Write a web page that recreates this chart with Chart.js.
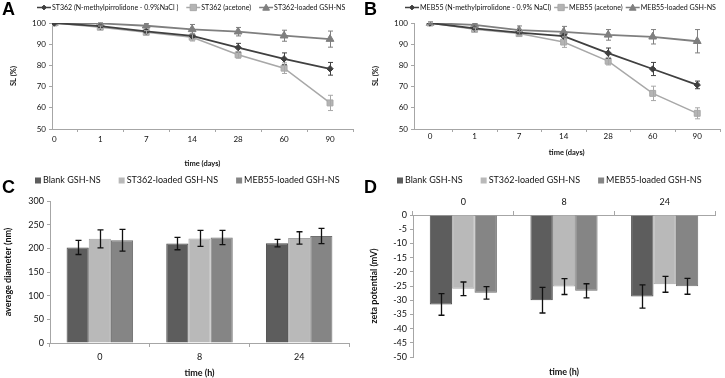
<!DOCTYPE html>
<html>
<head>
<meta charset="utf-8">
<script src="https://cdn.jsdelivr.net/npm/chart.js@4.4.0/dist/chart.umd.min.js"></script>
<style>
  body { margin: 0; background: #fff; }
  #wrap { position: relative; width: 725px; height: 378px; overflow: hidden; }
  canvas { position: absolute; }
  .letter { position: absolute; font: bold 18px Arial, "Liberation Sans", sans-serif; line-height: 18px; color: #000; }
</style>
</head>
<body>
<div id="wrap">
  <canvas id="chartA" width="362" height="180" style="left:0;top:0"></canvas>
  <canvas id="chartB" width="363" height="180" style="left:362px;top:0"></canvas>
  <canvas id="chartC" width="362" height="206" style="left:0;top:172px"></canvas>
  <canvas id="chartD" width="363" height="206" style="left:362px;top:172px"></canvas>
  <div class="letter" style="left:2px;top:0">A</div>
  <div class="letter" style="left:364px;top:0">B</div>
  <div class="letter" style="left:2px;top:178px">C</div>
  <div class="letter" style="left:364px;top:178px">D</div>
</div>
<script>
// Time points (days) for the stability panels A and B
const timeDays = ['0', '1', '7', '14', '28', '60', '90'];

// Panel A - ST362
const aNmp = [100, 98.5, 96, 93.9, 88.4, 83.1, 78.4];
const aNmpErr = [0, 0.4, 0.6, 0.8, 2, 2.8, 3];
const aAcetone = [100, 98, 95.6, 93.3, 85, 78.7, 62.3];
const aAcetoneErr = [0, 0.6, 0.8, 1.8, 1.6, 2.5, 3.6];
const aGsh = [100, 99.8, 98.7, 97, 95.9, 94, 92.4];
const aGshErr = [0, 0.3, 1, 2.3, 2, 2.6, 3.8];

// Panel B - MEB55
const bNmp = [100, 97.5, 95.5, 93.8, 85.8, 78.3, 70.8];
const bNmpErr = [0, 0.4, 0.6, 0.8, 2.4, 3.1, 1.8];
const bAcetone = [100, 97, 95, 91, 82, 66.8, 57.4];
const bAcetoneErr = [0.5, 0.7, 0.9, 2.5, 1.8, 3.4, 2.6];
const bGsh = [100, 99.1, 96.6, 95.8, 94.4, 93.5, 91.4];
const bGshErr = [0.5, 0.5, 2, 2.6, 2.5, 3.4, 5.5];

// Panels C and D - nanosponge size and zeta potential
const timeHours = ['0', '8', '24'];
const diamBlank = [202, 210, 211];
const diamBlankErr = [15, 13, 8];
const diamSt362 = [220, 221, 222];
const diamSt362Err = [19, 17, 13];
const diamMeb55 = [217, 223, 226];
const diamMeb55Err = [23, 15, 16];

const zetaBlank = [-31.5, -30, -28.7];
const zetaBlankErr = [3.8, 4.5, 4.1];
const zetaSt362 = [-26, -25.2, -24.4];
const zetaSt362Err = [2.4, 2.8, 2.8];
const zetaMeb55 = [-27.4, -26.7, -25.1];
const zetaMeb55Err = [2.2, 2.5, 2.8];

Chart.defaults.font.family = 'Lato, "Open Sans", sans-serif';
Chart.defaults.font.size = 8;
Chart.defaults.color = '#111';
Chart.defaults.animation = false;

const axisGrey = '#a6a6a6';

// draws one marker shape
function drawMarker(ctx, style, x, y, r, fill, stroke) {
  ctx.beginPath();
  if (style === 'rectRot') {
    ctx.moveTo(x, y - r); ctx.lineTo(x + r, y); ctx.lineTo(x, y + r); ctx.lineTo(x - r, y);
  } else if (style === 'triangle') {
    ctx.moveTo(x, y - r); ctx.lineTo(x + r, y + r * 0.8); ctx.lineTo(x - r, y + r * 0.8);
  } else {
    ctx.rect(x - r, y - r, r * 2, r * 2);
  }
  ctx.closePath();
  ctx.fillStyle = fill;
  ctx.fill();
  ctx.strokeStyle = stroke;
  ctx.lineWidth = 1;
  ctx.stroke();
}

// Legend in the Excel style: line + marker or small square, then text, one after another
const panelLegend = {
  id: 'panelLegend',
  afterDraw(chart, args, opts) {
    const ctx = chart.ctx;
    ctx.save();
    ctx.font = opts.font;
    ctx.textBaseline = 'middle';
    let x = opts.x;
    const y = opts.y;
    chart.data.datasets.forEach(ds => {
      if (chart.config.type === 'line') {
        ctx.strokeStyle = ds.borderColor;
        ctx.lineWidth = 1.5;
        ctx.beginPath();
        ctx.moveTo(x, y);
        ctx.lineTo(x + opts.lineLen, y);
        ctx.stroke();
        drawMarker(ctx, ds.pointStyle, x + opts.lineLen / 2, y, ds.pointRadius * 0.75, ds.pointBackgroundColor, ds.pointBorderColor);
        x += opts.lineLen + 1;
      } else {
        ctx.fillStyle = ds.backgroundColor;
        ctx.fillRect(x, y - 3, 6, 6);
        x += 8;
      }
      ctx.fillStyle = '#111';
      ctx.fillText(ds.label, x, y);
      x += ctx.measureText(ds.label).width + opts.gap;
    });
    ctx.restore();
  }
};

// Error bars read from dataset.errors, placed with the y scale
const errorBars = {
  id: 'errorBars',
  afterDatasetsDraw(chart, args, opts) {
    const ctx = chart.ctx;
    const yScale = chart.scales.y;
    chart.data.datasets.forEach((ds, di) => {
      if (!ds.errors) return;
      const meta = chart.getDatasetMeta(di);
      ctx.save();
      ctx.strokeStyle = opts.color || ds.borderColor;
      ctx.lineWidth = opts.width;
      meta.data.forEach((el, i) => {
        const err = ds.errors[i];
        if (!err) return;
        const d = ds.data[i];
        const v = typeof d === 'object' ? d.y : d;
        const top = yScale.getPixelForValue(v + err);
        const bot = yScale.getPixelForValue(v - err);
        const x = Math.round(el.x) + 0.5;
        ctx.beginPath();
        ctx.moveTo(x, top); ctx.lineTo(x, bot);
        ctx.moveTo(x - opts.cap, top); ctx.lineTo(x + opts.cap, top);
        ctx.moveTo(x - opts.cap, bot); ctx.lineTo(x + opts.cap, bot);
        ctx.stroke();
      });
      ctx.restore();
    });
  }
};

// Small tick marks between the time points on the x axis
const betweenTicks = {
  id: 'betweenTicks',
  afterDraw(chart) {
    const s = chart.scales.x;
    const ctx = chart.ctx;
    ctx.save();
    ctx.strokeStyle = axisGrey;
    ctx.lineWidth = 1;
    for (let v = Math.ceil(s.min - 0.5) + 0.5; v <= s.max + 0.001; v += 1) {
      const px = Math.round(s.getPixelForValue(v)) + 0.5;
      ctx.beginPath();
      ctx.moveTo(px, s.top);
      ctx.lineTo(px, s.top + 3);
      ctx.stroke();
    }
    ctx.restore();
  }
};

// Builds a stability line chart (panels A and B)
function lineChart(id, series, o) {
  const datasets = series.map(s => ({
    label: s.label,
    data: s.values.map((v, i) => ({ x: i, y: v })),
    errors: s.errors,
    borderColor: s.line,
    borderWidth: s.width,
    backgroundColor: s.fill,
    pointBackgroundColor: s.fill,
    pointBorderColor: s.line,
    pointBorderWidth: 1,
    pointStyle: s.marker,
    pointRadius: s.radius,
    tension: 0
  }));
  return new Chart(document.getElementById(id), {
    type: 'line',
    data: { datasets: datasets },
    plugins: [panelLegend, errorBars, betweenTicks],
    options: {
      responsive: false,
      devicePixelRatio: 1,
      layout: { padding: { top: o.top, right: o.right, left: 0, bottom: 0 } },
      plugins: {
        legend: { display: false },
        tooltip: { enabled: false },
        panelLegend: { x: o.legendX, y: 7.5, lineLen: 14, gap: o.legendGap, font: o.legendFont },
        errorBars: { width: 1, cap: 2.5 }
      },
      scales: {
        x: {
          type: 'linear',
          min: o.xMin,
          max: 6.5,
          afterBuildTicks: s => { s.ticks = timeDays.map((_, i) => ({ value: i })); },
          afterFit: s => { s.height = 180 - o.bottom; },
          ticks: { callback: v => timeDays[v], autoSkip: false, maxRotation: 0, padding: o.xTickPad },
          grid: { display: false, drawTicks: false },
          border: { display: true, color: axisGrey },
          title: { display: true, text: 'time (days)', font: { weight: 'bold', size: 7.5 }, padding: { top: 0, bottom: o.xTitlePad } }
        },
        y: {
          min: 50,
          max: 100,
          afterFit: s => { s.width = o.left; },
          ticks: { stepSize: 5, padding: 3 },
          grid: { drawOnChartArea: false, drawTicks: true, tickLength: 3, color: axisGrey },
          border: { color: axisGrey },
          title: { display: true, text: 'SL (%)', font: { weight: 'bold', size: 7.5 }, padding: { top: 9, bottom: 0 } }
        }
      }
    }
  });
}

// Builds a grouped bar chart (panels C and D)
function barChart(id, series, o) {
  const datasets = series.map(s => ({
    label: s.label,
    data: s.values,
    errors: s.errors,
    backgroundColor: s.fill,
    borderColor: s.line,
    borderWidth: 1,
    categoryPercentage: 0.667,
    barPercentage: 1
  }));
  const scales = {
    x: {
      position: o.xPos,
      afterFit: s => { s.height = o.xHeight; },
      ticks: { padding: o.xTickPad, font: { size: 9 } },
      grid: { drawOnChartArea: false, drawTicks: true, tickLength: 4, color: axisGrey },
      border: { color: axisGrey },
      title: { display: o.xPos === 'bottom', text: 'time (h)', font: { weight: 'bold', size: 9 }, padding: { top: 0, bottom: 0 } }
    },
    y: {
      min: o.yMin,
      max: o.yMax,
      afterFit: s => { s.width = o.left; },
      ticks: { stepSize: o.step, padding: 3, font: { size: 9 } },
      grid: { drawOnChartArea: false, drawTicks: true, tickLength: 3, color: axisGrey },
      border: { color: axisGrey },
      title: { display: true, text: o.yTitle, font: { weight: 'bold', size: 9 }, padding: { top: o.yTitlePad, bottom: 0 } }
    }
  };
  if (o.xPos === 'top') {
    // separate bottom axis only for the "time (h)" title
    scales.x2 = {
      type: 'category',
      position: 'bottom',
      afterFit: s => { s.height = o.x2Height; },
      ticks: { display: false },
      grid: { display: false, drawTicks: false },
      border: { display: false },
      title: { display: true, text: 'time (h)', font: { weight: 'bold', size: 9 }, padding: { top: 0, bottom: 1 } }
    };
  }
  return new Chart(document.getElementById(id), {
    type: 'bar',
    data: { labels: timeHours, datasets: datasets },
    plugins: [panelLegend, errorBars],
    options: {
      responsive: false,
      devicePixelRatio: 1,
      layout: { padding: { top: o.top, right: o.right, left: 0, bottom: 0 } },
      plugins: {
        legend: { display: false },
        tooltip: { enabled: false },
        panelLegend: { x: o.legendX, y: 8.5, gap: 18, font: '9px Lato, sans-serif' },
        errorBars: { color: '#111', width: 1.3, cap: 3 }
      },
      scales: scales
    }
  });
}

const lineStyles = [
  { marker: 'rectRot', radius: 3.2, line: '#404040', fill: '#404040', width: 1.8 },
  { marker: 'rect', radius: 4.2, line: '#a8a8a8', fill: '#b4b4b4', width: 1.5 },
  { marker: 'triangle', radius: 4.5, line: '#7f7f7f', fill: '#7f7f7f', width: 1.8 }
];
const barStyles = [
  { fill: '#5d5d5d', line: '#4a4a4a' },
  { fill: '#b9b9b9', line: '#a5a5a5' },
  { fill: '#858585', line: '#6f6f6f' }
];

lineChart('chartA', [
  { label: 'ST362 (N-methylpirrolidone - 0.9%NaCl )', values: aNmp, errors: aNmpErr, ...lineStyles[0] },
  { label: 'ST362 (acetone)', values: aAcetone, errors: aAcetoneErr, ...lineStyles[1] },
  { label: 'ST362-loaded GSH-NS', values: aGsh, errors: aGshErr, ...lineStyles[2] }
], { top: 23, bottom: 129, left: 52, right: 9, xMin: -0.05, xTickPad: 6, xTitlePad: 12,
     legendX: 37, legendGap: 8, legendFont: '7px Lato, sans-serif' });

lineChart('chartB', [
  { label: 'MEB55 (N-methylpirrolidone - 0.9% NaCl)', values: bNmp, errors: bNmpErr, ...lineStyles[0] },
  { label: 'MEB55 (acetone)', values: bAcetone, errors: bAcetoneErr, ...lineStyles[1] },
  { label: 'MEB55-loaded GSH-NS', values: bGsh, errors: bGshErr, ...lineStyles[2] }
], { top: 23, bottom: 129, left: 52, right: 3, xMin: -0.36, xTickPad: 3, xTitlePad: 23,
     legendX: 43, legendGap: 3, legendFont: '7.1px Lato, sans-serif' });

barChart('chartC', [
  { label: 'Blank GSH-NS', values: diamBlank, errors: diamBlankErr, ...barStyles[0] },
  { label: 'ST362-loaded GSH-NS', values: diamSt362, errors: diamSt362Err, ...barStyles[1] },
  { label: 'MEB55-loaded GSH-NS', values: diamMeb55, errors: diamMeb55Err, ...barStyles[2] }
], { xPos: 'bottom', top: 29, xHeight: 35, left: 50, right: 13, yMin: 0, yMax: 300, step: 50,
     yTitle: 'average diameter (nm)', yTitlePad: 3, xTickPad: 5, legendX: 35 });

barChart('chartD', [
  { label: 'Blank GSH-NS', values: zetaBlank, errors: zetaBlankErr, ...barStyles[0] },
  { label: 'ST362-loaded GSH-NS', values: zetaSt362, errors: zetaSt362Err, ...barStyles[1] },
  { label: 'MEB55-loaded GSH-NS', values: zetaMeb55, errors: zetaMeb55Err, ...barStyles[2] }
], { xPos: 'top', top: 0, xHeight: 43, x2Height: 21, left: 51, right: 10, yMin: -50, yMax: 0, step: 5,
     yTitle: 'zeta potential (mV)', yTitlePad: 7, xTickPad: 3.5, legendX: 35 });
</script>
</body>
</html>
